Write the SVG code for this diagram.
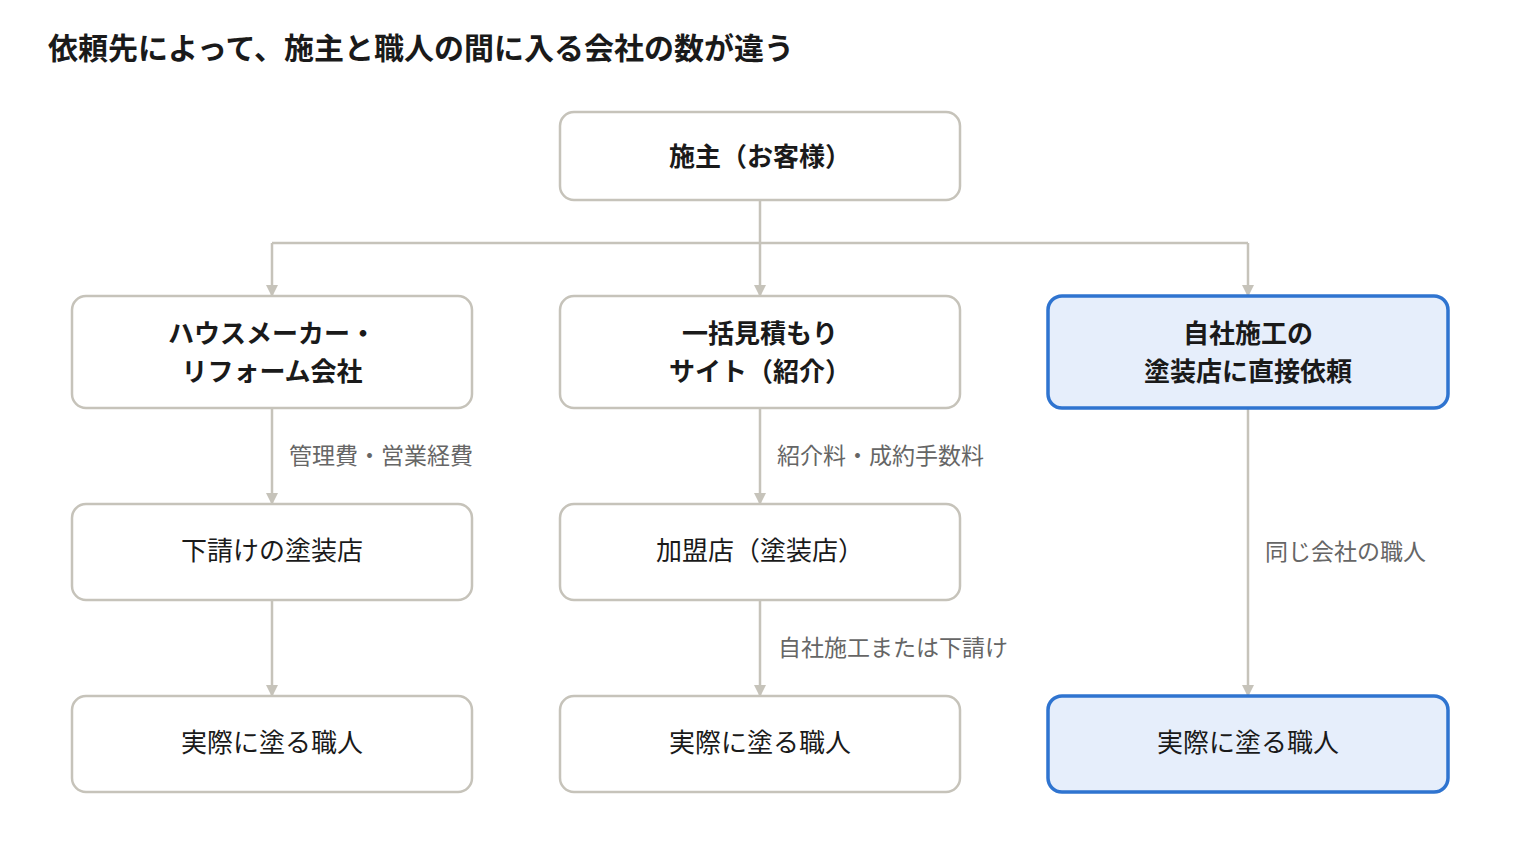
<svg xmlns="http://www.w3.org/2000/svg" width="1520" height="848" viewBox="0 0 1520 848">
<style>
text{font-family:"Noto Sans CJK JP","Noto Sans",sans-serif;}
.title{font-size:30px;font-weight:700;fill:#1a1a1a;}
.box{fill:#ffffff;stroke:#c6c3ba;stroke-width:2.5;}
.blue{fill:#e6eefb;stroke:#2f74d0;stroke-width:3.5;}
.nb{font-size:26px;font-weight:700;fill:#1a1a1a;text-anchor:middle;}
.nr{font-size:26px;font-weight:400;fill:#1a1a1a;text-anchor:middle;}
.lbl{font-size:23px;fill:#666666;}
.edge{fill:none;stroke:#c6c3ba;stroke-width:2.5;}
</style>
<defs>
<marker id="arr" markerWidth="12" markerHeight="12" refX="10" refY="6" orient="auto" markerUnits="userSpaceOnUse">
<path d="M0,0 L12,6 L0,12 Z" fill="#c6c3ba"/>
</marker>
</defs>
<rect width="1520" height="848" fill="#ffffff"/>
<text class="title" x="48" y="59">依頼先によって、施主と職人の間に入る会社の数が違う</text>

<g id="connectors">
<path class="edge" d="M760,200 V243"/>
<path class="edge" d="M272,243 H1248"/>
<path class="edge" d="M272,243 V295" marker-end="url(#arr)"/>
<path class="edge" d="M760,243 V295" marker-end="url(#arr)"/>
<path class="edge" d="M1248,243 V295" marker-end="url(#arr)"/>
<path class="edge" d="M272,408 V503" marker-end="url(#arr)"/>
<path class="edge" d="M760,408 V503" marker-end="url(#arr)"/>
<path class="edge" d="M272,600 V695" marker-end="url(#arr)"/>
<path class="edge" d="M760,600 V695" marker-end="url(#arr)"/>
<path class="edge" d="M1248,409 V695" marker-end="url(#arr)"/>
<text class="lbl" x="289" y="464">管理費・営業経費</text>
<text class="lbl" x="777" y="464">紹介料・成約手数料</text>
<text class="lbl" x="778" y="656">自社施工または下請け</text>
<text class="lbl" x="1265" y="560">同じ会社の職人</text>
</g>

<g id="n-client">
<rect class="box" x="560" y="112" width="400" height="88" rx="14"/>
<text class="nb" x="760" y="166">施主（お客様）</text>
</g>
<g id="n-housemaker">
<rect class="box" x="72" y="296" width="400" height="112" rx="14"/>
<text class="nb" x="272" y="343">ハウスメーカー・</text>
<text class="nb" x="272" y="381">リフォーム会社</text>
</g>
<g id="n-site">
<rect class="box" x="560" y="296" width="400" height="112" rx="14"/>
<text class="nb" x="760" y="343">一括見積もり</text>
<text class="nb" x="760" y="381">サイト（紹介）</text>
</g>
<g id="n-direct">
<rect class="blue" x="1048" y="296" width="400" height="112" rx="14"/>
<text class="nb" x="1248" y="343">自社施工の</text>
<text class="nb" x="1248" y="381">塗装店に直接依頼</text>
</g>
<g id="n-sub">
<rect class="box" x="72" y="504" width="400" height="96" rx="14"/>
<text class="nr" x="272" y="560">下請けの塗装店</text>
</g>
<g id="n-member">
<rect class="box" x="560" y="504" width="400" height="96" rx="14"/>
<text class="nr" x="760" y="560">加盟店（塗装店）</text>
</g>
<g id="n-worker1">
<rect class="box" x="72" y="696" width="400" height="96" rx="14"/>
<text class="nr" x="272" y="752">実際に塗る職人</text>
</g>
<g id="n-worker2">
<rect class="box" x="560" y="696" width="400" height="96" rx="14"/>
<text class="nr" x="760" y="752">実際に塗る職人</text>
</g>
<g id="n-worker3">
<rect class="blue" x="1048" y="696" width="400" height="96" rx="14"/>
<text class="nr" x="1248" y="752">実際に塗る職人</text>
</g>
</svg>
